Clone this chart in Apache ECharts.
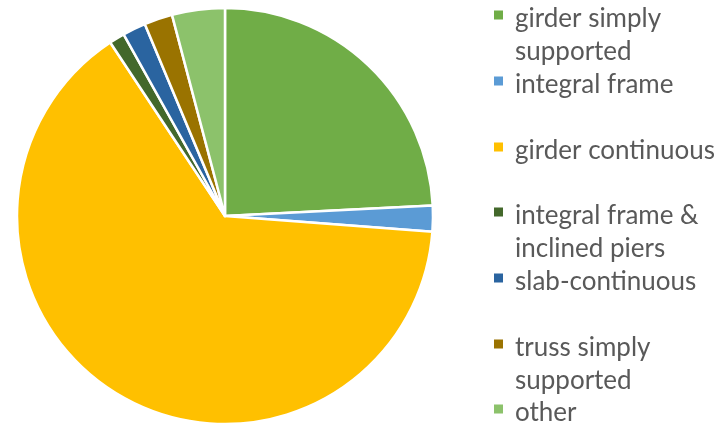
<!DOCTYPE html>
<html>
<head>
<meta charset="utf-8">
<script src="https://cdn.jsdelivr.net/npm/echarts@6/dist/echarts.min.js"></script>
<style>
  html, body { margin: 0; padding: 0; background: #ffffff; }
  #chart { width: 720px; height: 426px; }
</style>
</head>
<body>
<div id="chart"></div>
<script>
// Bridge types and their share (%)
const categories = [
  'girder simply supported',
  'integral frame',
  'girder continuous',
  'integral frame & inclined piers',
  'slab-continuous',
  'truss simply supported',
  'other'
];
const legendLines = [
  ['girder simply', 'supported'],
  ['integral frame'],
  ['girder continuous'],
  ['integral frame &', 'inclined piers'],
  ['slab-continuous'],
  ['truss simply', 'supported'],
  ['other']
];
const shares = [24.2, 2.0, 64.5, 1.2, 1.8, 2.2, 4.1];
const colors = ['#70AD47', '#5B9BD5', '#FFC000', '#43682B', '#2A64A0', '#9A7300', '#8CC26B'];

// legend slots: marker centre (y) of each entry
const markerY = [15, 81, 147, 212, 278, 344, 409];

const LINE_H = 33;
// square marker at the top of a 16x17 box; two tiny points widen the box
// so the text sits a bit right of and below the marker
const MARKER = 'path://M0,0L9,0L9,9L0,9Z M16,17L16.01,17L16.01,17.01Z M0,0.5L0.01,0.5L0.01,0.51Z';

const legends = categories.map((name, i) => {
  const lines = legendLines[i];
  // an empty first line keeps the first real line level with the marker
  const text = lines.length > 1 ? '\n' + lines.join('\n') : lines[0];
  const nLines = lines.length > 1 ? 3 : 1;
  const textCenter = markerY[i] + 4;
  return {
    orient: 'vertical',
    left: 494,
    top: textCenter - nLines * LINE_H / 2,
    padding: 0,
    itemWidth: 16,
    itemHeight: 17,
    itemGap: 0,
    icon: MARKER,
    selectedMode: false,
    itemStyle: { borderWidth: 0 },
    data: [name],
    formatter: () => text,
    textStyle: {
      fontFamily: 'Lato',
      fontSize: 26,
      color: '#595959',
      lineHeight: LINE_H
    }
  };
});

const chart = echarts.init(document.getElementById('chart'), null, { renderer: 'canvas' });
chart.setOption({
  animation: false,
  backgroundColor: '#ffffff',
  color: colors,
  legend: legends,
  series: [{
    type: 'pie',
    center: [225, 216],
    radius: 208,
    startAngle: 90,
    clockwise: true,
    label: { show: false },
    labelLine: { show: false },
    itemStyle: { borderColor: '#ffffff', borderWidth: 2.5 },
    data: categories.map((name, i) => ({ name: name, value: shares[i] }))
  }]
});
</script>
</body>
</html>
